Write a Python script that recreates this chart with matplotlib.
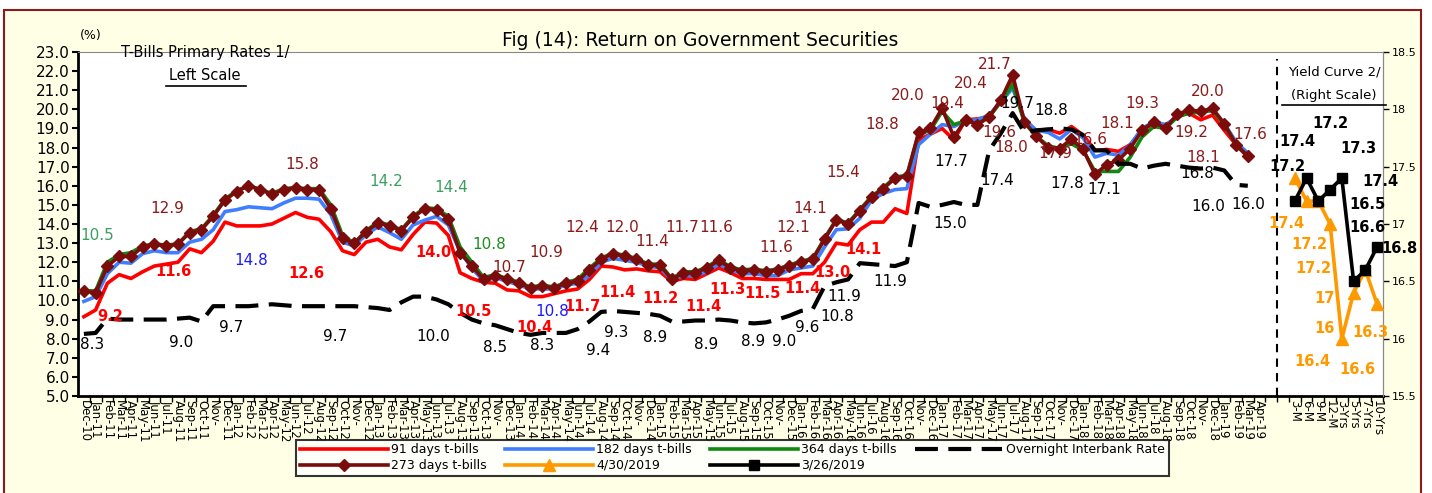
import pandas as pd
import matplotlib
matplotlib.use('Agg')
import matplotlib.pyplot as plt
from matplotlib.lines import Line2D
from matplotlib.patches import Rectangle

# Kategorien: Monate Dec-10 .. Apr-19, zwei Leerstellen, Laufzeiten der Zinskurve
months = pd.date_range('2010-12-01', periods=101, freq='MS').strftime('%b-%y').tolist()
months = ['Nov-' if m.startswith('Nov') else m for m in months]
curve_terms = ['3-M', '6-M', '9-M', '12-M', '3-Yrs', '5-Yrs', '7-Yrs', '10-Yrs']
categories = months + ['', ''] + curve_terms

# T-Bills (linke Skala), Dec-10 .. Mar-19
tb91 = [9.15, 9.5, 10.9, 11.35, 11.15, 11.5, 11.8, 11.9, 12.0, 12.7, 12.5, 13.1,
        14.1, 13.9, 13.9, 13.9, 14.0, 14.3, 14.6, 14.35, 14.25, 13.6, 12.6, 12.4,
        13.05, 13.2, 12.8, 12.65, 13.45, 14.1, 14.05, 13.4, 11.45, 11.15, 10.95, 10.9,
        10.55, 10.5, 10.2, 10.2, 10.35, 10.5, 10.6, 11.1, 11.8, 11.75, 11.6, 11.65,
        11.55, 11.5, 11.0, 11.15, 11.1, 11.4, 11.7, 11.45, 11.15, 11.15, 11.1, 11.1,
        11.1, 11.4, 11.4, 12.0, 13.0, 12.9, 13.7, 14.1, 14.1, 14.8, 14.55, 18.4,
        18.7, 19.0, 18.4, 19.45, 19.5, 19.6, 20.45, 21.5, 19.35, 18.9, 18.95, 18.75,
        19.1, 18.65, 17.85, 17.9, 17.8, 18.15, 18.9, 19.25, 19.0, 19.7, 19.8, 19.45,
        19.7, 18.9, 18.15, 17.5]
tb182 = [9.95, 10.2, 11.4, 12.0, 11.95, 12.45, 12.6, 12.5, 12.5, 13.05, 13.2, 13.7,
         14.65, 14.75, 14.9, 14.85, 14.8, 15.1, 15.35, 15.35, 15.3, 14.5, 13.05, 12.85,
         13.45, 13.85, 13.55, 13.2, 13.95, 14.2, 14.4, 13.95, 12.55, 11.7, 11.0, 11.2,
         11.0, 10.8, 10.6, 10.6, 10.6, 10.8, 10.9, 11.3, 12.0, 12.2, 12.1, 12.0,
         11.8, 11.7, 11.1, 11.3, 11.3, 11.5, 11.9, 11.6, 11.4, 11.4, 11.3, 11.3,
         11.6, 11.7, 11.8, 12.8, 13.7, 13.75, 14.3, 15.25, 15.6, 15.8, 15.85, 18.15,
         18.7, 19.2, 19.1, 19.4, 19.45, 19.7, 20.4, 21.1, 19.5, 18.9, 18.8, 18.45,
         18.95, 18.5, 17.5, 17.7, 17.6, 18.15, 19.0, 19.35, 19.2, 19.6, 19.85, 19.85,
         19.95, 19.25, 18.3, 17.7]
tb364 = [10.5, 10.5, 12.0, 12.4, 12.5, 12.85, 12.95, 12.9, 12.95, 13.6, 13.75, 14.45,
         15.3, 15.75, 16.0, 15.8, 15.6, 15.85, 15.9, 15.85, 15.85, 15.0, 13.4, 13.0,
         13.65, 14.1, 13.95, 13.7, 14.4, 14.85, 14.8, 14.4, 12.8, 12.0, 11.2, 11.35,
         11.15, 10.95, 10.7, 10.8, 10.7, 10.95, 11.1, 11.7, 12.2, 12.5, 12.35, 12.2,
         11.9, 11.9, 11.15, 11.5, 11.5, 11.75, 12.15, 11.75, 11.6, 11.65, 11.55, 11.65,
         11.85, 12.05, 12.2, 13.25, 14.25, 14.05, 14.75, 15.45, 15.9, 16.45, 16.55, 18.7,
         18.9, 19.9, 19.2, 19.4, 19.25, 19.6, 20.4, 21.3, 19.3, 18.6, 18.1, 17.95,
         18.2, 17.85, 16.75, 16.75, 16.75, 17.5, 18.55, 19.1, 19.0, 19.6, 19.8, 19.85,
         19.95, 19.2, 18.15, 17.55]
tb273 = [10.5, 10.4, 11.8, 12.3, 12.3, 12.8, 12.95, 12.85, 12.95, 13.55, 13.7, 14.4,
         15.25, 15.7, 16.0, 15.8, 15.55, 15.8, 15.9, 15.8, 15.8, 14.8, 13.25, 13.0,
         13.6, 14.05, 13.9, 13.65, 14.35, 14.8, 14.75, 14.25, 12.5, 11.8, 11.1, 11.3,
         11.1, 10.9, 10.65, 10.75, 10.65, 10.9, 11.0, 11.6, 12.15, 12.45, 12.3, 12.15,
         11.85, 11.85, 11.1, 11.45, 11.45, 11.7, 12.1, 11.7, 11.55, 11.6, 11.5, 11.6,
         11.8, 12.0, 12.15, 13.2, 14.2, 14.0, 14.7, 15.4, 15.85, 16.4, 16.5, 18.8,
         19.0, 20.05, 18.55, 19.45, 19.2, 19.6, 20.5, 21.8, 19.35, 18.6, 18.0, 17.95,
         18.45, 17.9, 16.6, 17.1, 17.35, 17.95, 18.9, 19.35, 19.0, 19.75, 19.95, 19.9,
         20.05, 19.25, 18.15, 17.55]
interbank = [8.25, 8.3, 9.05, 9.0, 9.0, 9.0, 9.0, 9.0, 9.05, 9.1, 8.9, 9.7,
             9.7, 9.7, 9.7, 9.75, 9.8, 9.75, 9.7, 9.7, 9.7, 9.7, 9.7, 9.7,
             9.65, 9.6, 9.5, 9.9, 10.2, 10.2, 10.05, 9.8, 9.35, 9.0, 8.8, 8.7,
             8.5, 8.3, 8.2, 8.3, 8.3, 8.3, 8.5, 8.9, 9.4, 9.45, 9.4, 9.35,
             9.3, 9.2, 8.9, 8.9, 8.95, 8.95, 9.0, 8.95, 8.85, 8.8, 8.85, 9.0,
             9.2, 9.45, 9.55, 10.75, 10.95, 11.1, 11.95, 11.9, 11.85, 11.8, 12.0, 15.1,
             14.9, 15.0, 15.15, 15.0, 15.0, 17.85, 18.75, 19.8, 18.8, 18.9, 18.95, 19.0,
             18.95, 18.65, 17.85, 17.85, 17.15, 17.15, 16.9, 17.05, 17.15, 17.05, 16.95, 16.9,
             16.95, 16.8, 16.05, 16.0]

# Zinskurven (rechte Skala)
curve_apr = [17.4, 17.2, 17.2, 17.0, 16.0, 16.4, 16.6, 16.3]
curve_mar = [17.2, 17.4, 17.2, 17.3, 17.4, 16.5, 16.6, 16.8]

# Datenbeschriftungen (x-Position, y-Position, Text)
lbl_273 = [(7.1, 14.8, '12.9'), (18.6, 17.1, '15.8'), (36.2, 11.7, '10.7'), (39.3, 12.5, '10.9'),
           (42.4, 13.8, '12.4'), (45.8, 13.8, '12.0'), (48.3, 13.1, '11.4'), (50.9, 13.8, '11.7'),
           (53.8, 13.8, '11.6'), (58.9, 12.75, '11.6'), (60.3, 13.8, '12.1'), (61.8, 14.8, '14.1'),
           (64.6, 16.7, '15.4'), (67.9, 19.2, '18.8'), (70.1, 20.7, '20.0'), (73.4, 20.3, '19.4'),
           (75.4, 21.35, '20.4'), (77.5, 22.35, '21.7'), (77.9, 18.8, '19.6'), (78.9, 18.0, '18.0'),
           (82.6, 17.7, '17.9'), (85.6, 18.4, '16.6'), (87.9, 19.25, '18.1'), (90.0, 20.3, '19.3'),
           (95.6, 20.95, '20.0'), (94.2, 18.8, '19.2'), (95.2, 17.5, '18.1'), (99.2, 18.7, '17.6')]
lbl_364 = [(1.1, 13.4, '10.5'), (25.7, 16.2, '14.2'), (31.2, 15.9, '14.4')]
lbl_364b = [(34.5, 12.95, '10.8')]
lbl_182 = [(14.2, 12.1, '14.8'), (39.8, 9.4, '10.8')]
lbl_91 = [(2.2, 9.15, '9.2'), (7.6, 11.5, '11.6'), (18.9, 11.4, '12.6'), (29.7, 12.5, '14.0'),
          (33.1, 9.4, '10.5'), (38.3, 8.6, '10.4'), (42.4, 9.7, '11.7'), (45.4, 10.4, '11.4'),
          (49.0, 10.1, '11.2'), (52.7, 9.7, '11.4'), (54.7, 10.55, '11.3'), (57.7, 10.35, '11.5'),
          (61.1, 10.65, '11.4'), (63.7, 11.45, '13.0'), (66.3, 12.65, '14.1')]
lbl_ib = [(0.7, 7.7, '8.3'), (8.3, 7.8, '9.0'), (12.5, 8.6, '9.7'), (21.4, 8.1, '9.7'),
          (29.7, 8.1, '10.0'), (35.0, 7.55, '8.5'), (39.0, 7.65, '8.3'), (43.7, 7.4, '9.4'),
          (45.3, 8.3, '9.3'), (48.6, 8.05, '8.9'), (52.9, 7.7, '8.9'), (56.9, 7.85, '8.9'),
          (59.6, 7.85, '9.0'), (61.5, 8.6, '9.6'), (64.1, 9.15, '10.8'), (64.7, 10.2, '11.9'),
          (68.6, 11.0, '11.9'), (73.7, 14.05, '15.0'), (73.8, 17.25, '17.7'), (77.7, 16.3, '17.4'),
          (79.4, 20.3, '19.7'), (82.3, 19.95, '18.8'), (83.6, 16.1, '17.8'), (86.8, 15.8, '17.1'),
          (94.7, 16.65, '16.8'), (95.6, 14.9, '16.0'), (99.0, 15.0, '16.0')]
lbl_mar = [(102.4, 17.5, '17.2'), (103.2, 17.72, '17.4'), (106.0, 17.88, '17.2'), (108.4, 17.66, '17.3'),
           (110.3, 17.37, '17.4'), (109.2, 17.17, '16.5'), (109.2, 16.97, '16.6'), (111.9, 16.79, '16.8')]
lbl_apr = [(102.3, 17.0, '17.4'), (104.2, 16.82, '17.2'), (104.6, 16.61, '17.2'), (105.5, 16.35, '17'),
           (105.5, 16.09, '16'), (104.5, 15.8, '16.4'), (108.3, 15.73, '16.6'), (109.4, 16.05, '16.3')]

cream = '#FFFFE6'
maroon = '#7B0C0C'
orange = '#FF9900'

fig = plt.figure(figsize=(14.32, 4.93), dpi=100, facecolor='white')
bg = Rectangle((4 / 1432, -0.1), 1417 / 1432, 1.1 - 10 / 493, transform=fig.transFigure,
               facecolor=cream, edgecolor='#8B1A1A', linewidth=1.5, zorder=-10)
fig.add_artist(bg)

ax = fig.add_axes([78 / 1432, 1 - 396 / 493, 1305 / 1432, 344 / 493])
ax.set_facecolor('white')
x_months = list(range(len(tb91)))
x_curve = list(range(categories.index('3-M'), categories.index('3-M') + len(curve_terms)))

ax.plot(x_months, tb91, color='#FF0000', lw=2.6, label='91 days t-bills', zorder=3)
ax.plot(x_months, tb182, color='#3F7FFF', lw=2.6, label='182 days t-bills', zorder=3)
ax.plot(x_months, tb364, color='#118811', lw=2.6, label='364 days t-bills', zorder=3)
ax.plot(x_months, tb273, color=maroon, lw=2.6, marker='D', markersize=6.3, label='273 days t-bills', zorder=4)
ax.plot(x_months, interbank, color='black', lw=3, dashes=(5.5, 2.5), label='Overnight Interbank Rate', zorder=5)

ax.set_xlim(-0.5, len(categories) - 0.5)
ax.set_ylim(5, 23)
ax.set_yticks([5 + k for k in range(19)])
ax.set_yticklabels(['%.1f' % (5 + k) for k in range(19)], fontsize=11)
ax.set_xticks(range(len(categories)))
ax.set_xticklabels(categories, rotation=270, fontsize=8.5, va='top', ha='center',
                   family=['Liberation Sans Narrow', 'DejaVu Sans'])
ax.set_xticks([k + 0.5 for k in range(len(categories))], minor=True)
ax.tick_params(axis='x', which='major', length=0, pad=3)
ax.tick_params(axis='x', which='minor', length=4, width=1, direction='out')
ax.tick_params(axis='y', length=4, width=1.5, direction='out', pad=2)
ax.spines['left'].set_linewidth(2)
ax.spines['bottom'].set_linewidth(2)
ax.spines['top'].set_color('#888888')
ax.spines['right'].set_color('#888888')

ax.axvline(101.5, ymin=0, ymax=0.98, color='black', lw=1.5, dashes=(4, 3), zorder=2)

ax2 = ax.twinx()
ax2.plot(x_curve, curve_apr, color=orange, lw=2.6, marker='^', markersize=9, label='4/30/2019', zorder=3)
ax2.plot(x_curve, curve_mar, color='black', lw=2.6, marker='s', markersize=6.5, label='3/26/2019', zorder=4)
ax2.set_ylim(15.5, 18.5)
ax2.set_yticks([15.5 + 0.5 * k for k in range(7)])
ax2.set_yticklabels(['%g' % (15.5 + 0.5 * k) for k in range(7)], fontsize=8)
ax2.tick_params(axis='y', length=4, width=1, direction='out', pad=2)
ax2.spines['right'].set_color('#888888')
ax2.spines['left'].set_visible(False)
ax2.spines['top'].set_visible(False)
ax2.spines['bottom'].set_visible(False)

# Beschriftungen
for x, y, t in lbl_273:
    ax.text(x, y, t, color='#8B1A1A', fontsize=11, ha='center', va='center', zorder=10)
for x, y, t in lbl_364:
    ax.text(x, y, t, color='#3C9E5E', fontsize=11, ha='center', va='center', zorder=10)
for x, y, t in lbl_364b:
    ax.text(x, y, t, color='#1E8C1E', fontsize=11, ha='center', va='center', zorder=10)
for x, y, t in lbl_182:
    ax.text(x, y, t, color='#1A1AFF', fontsize=11, ha='center', va='center', zorder=10)
for x, y, t in lbl_91:
    ax.text(x, y, t, color='#FF0000', fontsize=10.5, fontweight='bold', ha='center', va='center', zorder=10)
for x, y, t in lbl_ib:
    ax.text(x, y, t, color='black', fontsize=11, ha='center', va='center', zorder=10)
for x, y, t in lbl_mar:
    ax2.text(x, y, t, color='black', fontsize=10.5, fontweight='bold', ha='center', va='center',
             zorder=10, clip_on=False)
for x, y, t in lbl_apr:
    ax2.text(x, y, t, color=orange, fontsize=10.5, fontweight='bold', ha='center', va='center', zorder=10)

# Titel und Hinweise
fig.text(0.489, 1 - 41 / 493, 'Fig (14): Return on Government Securities', fontsize=13.5,
         ha='center', va='center')
fig.text(80 / 1432, 1 - 36 / 493, '(%)', fontsize=9, ha='left', va='center')
fig.text(205 / 1432, 1 - 52 / 493, 'T-Bills Primary Rates 1/', fontsize=10.5, ha='center', va='center')
fig.text(205 / 1432, 1 - 76 / 493, 'Left Scale', fontsize=10.5, ha='center', va='center')
fig.add_artist(Line2D([166 / 1432, 246 / 1432], [1 - 86 / 493] * 2, color='black', lw=1.2))
fig.text(1334 / 1432, 1 - 72 / 493, 'Yield Curve 2/', fontsize=9.5, ha='center', va='center')
fig.text(1334 / 1432, 1 - 96 / 493, '(Right Scale)', fontsize=9.5, ha='center', va='center')
fig.add_artist(Line2D([1282 / 1432, 1386 / 1432], [1 - 105 / 493] * 2, color='black', lw=1.2))

# Legende
h1, l1 = ax.get_legend_handles_labels()
h2, l2 = ax2.get_legend_handles_labels()
hd = dict(zip(l1 + l2, h1 + h2))
order = ['91 days t-bills', '273 days t-bills', '182 days t-bills', '4/30/2019',
         '364 days t-bills', '3/26/2019', 'Overnight Interbank Rate']
leg = fig.legend([hd[k] for k in order], order, loc='lower left', ncol=4, mode='expand',
                 bbox_to_anchor=(290 / 1432, 1 - 482 / 493, 885 / 1432, 35 / 493),
                 prop={'family': ['Liberation Sans Narrow', 'DejaVu Sans'], 'size': 9},
                 handlelength=7, handletextpad=0.3, borderpad=0.3, labelspacing=0.2,
                 fancybox=False, frameon=True, facecolor='white', edgecolor='black')
leg.get_frame().set_linewidth(1.5)

fig.savefig('out.png', dpi=100, facecolor=fig.get_facecolor())
